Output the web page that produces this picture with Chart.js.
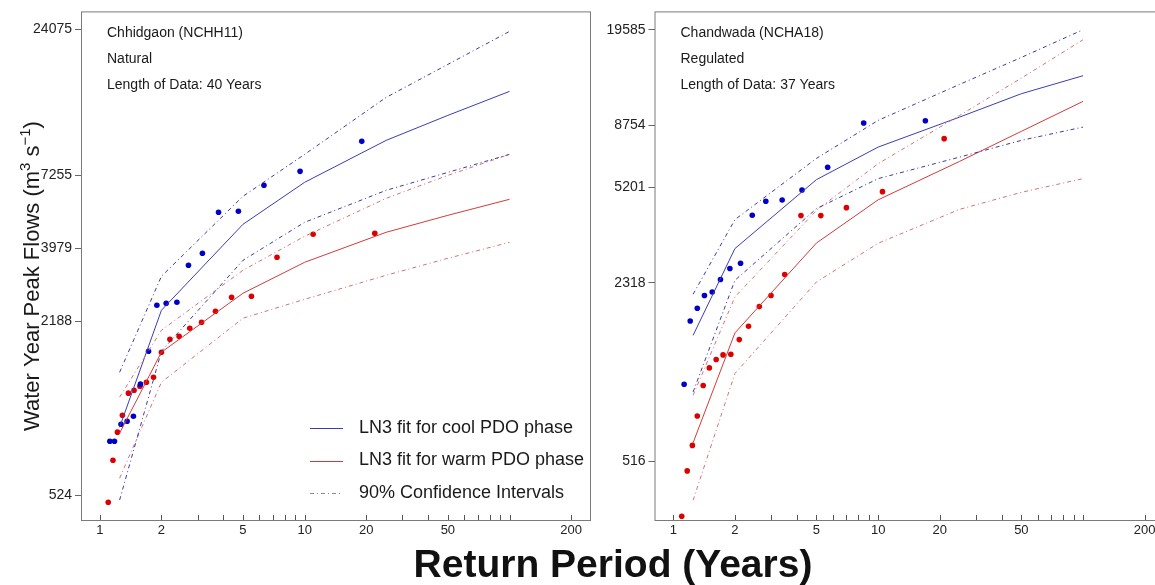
<!DOCTYPE html>
<html>
<head>
<meta charset="utf-8">
<script src="https://cdn.jsdelivr.net/npm/chart.js@4.4.1/dist/chart.umd.min.js"></script>
<style>
  html, body { margin: 0; padding: 0; background: #fff; }
  body { width: 1155px; height: 585px; overflow: hidden; position: relative;
         font-family: "Liberation Sans", Arial, sans-serif; }
  .panel { position: absolute; top: 0; width: 600px; height: 545px; }
  #leftBox  { left: 0; }
  #rightBox { left: 600px; }
  #xTitle { position: absolute; left: 0; width: 1226px; top: 544px; text-align: center;
            font-weight: bold; font-size: 39px; line-height: 39px; color: #111; }
</style>
</head>
<body>
<div class="panel" id="leftBox"><canvas id="leftChart"></canvas></div>
<div class="panel" id="rightBox"><canvas id="rightChart"></canvas></div>
<div id="xTitle">Return Period (Years)</div>

<script>
// -------------  DATA  -------------
// return periods at which the LN3 fits / confidence limits are drawn
const fitPeriods   = [1.25, 2, 5, 10, 25, 50, 100];
const xTickValues  = [1, 2, 3, 4, 5, 6, 7, 8, 9, 10, 20, 30, 40, 50, 60, 70, 80, 90, 100, 200];
const xTickLabels  = [1, 2, 5, 10, 20, 50, 200];

// Chhidgaon (NCHH11), natural
const chhYTicks    = [524, 2188, 3979, 7255, 24075];
const chhCoolT     = [19, 9.5, 6.33, 4.75, 3.8, 3.17, 2.71, 2.38, 2.11, 1.9, 1.73, 1.58, 1.46, 1.36, 1.27, 1.18, 1.12];
const chhCoolQ     = [9594, 7499, 6686, 5400, 5355, 3823, 3464, 2557, 2536, 2494, 1709, 1304, 1002, 962, 938, 816, 816];
const chhWarmT     = [22, 11, 7.33, 5.5, 4.4, 3.67, 3.14, 2.75, 2.44, 2.2, 2, 1.83, 1.69, 1.57, 1.47, 1.38, 1.29, 1.22, 1.16, 1.1];
const chhWarmQ     = [4507, 4470, 3700, 2685, 2664, 2374, 2169, 2065, 1933, 1886, 1696, 1381, 1325, 1282, 1241, 1211, 1010, 879, 698, 494];
const chhCoolFit   = [915, 2394, 4852, 6852, 9674, 11878, 14468];
const chhCoolUpper = [1438, 3166, 6108, 8622, 13772, 18060, 23690];
const chhCoolLower = [503, 1709, 3609, 4932, 6416, 7435, 8623];
const chhWarmFit   = [872, 1696, 2753, 3551, 4544, 5224, 5959];
const chhWarmUpper = [1172, 2031, 3325, 4397, 6008, 7255, 8623];
const chhWarmLower = [602, 1325, 2242, 2620, 3192, 3669, 4184];

// Chandwada (NCHA18), regulated
const chaYTicks    = [516, 2318, 5201, 8754, 19585];
const chaCoolT     = [17, 8.5, 5.67, 4.25, 3.4, 2.83, 2.43, 2.13, 1.89, 1.7, 1.55, 1.42, 1.31, 1.21, 1.13];
const chaCoolQ     = [9097, 8917, 6140, 5070, 4660, 4610, 4097, 2734, 2615, 2385, 2145, 2083, 1872, 1681, 986];
const chaWarmT     = [21, 10.5, 7, 5.25, 4.2, 3.5, 3, 2.63, 2.33, 2.1, 1.91, 1.75, 1.62, 1.5, 1.4, 1.31, 1.24, 1.17, 1.1];
const chaWarmQ     = [7818, 5001, 4371, 4087, 4087, 2485, 2083, 1898, 1608, 1437, 1270, 1263, 1215, 1132, 976, 755, 589, 475, 324];
const chaCoolFit   = [1490, 3095, 5535, 7282, 9378, 11420, 13292];
const chaCoolUpper = [2106, 3951, 6622, 9120, 12354, 15505, 19585];
const chaCoolLower = [924, 2369, 4334, 5581, 6694, 7707, 8619];
const chaWarmFit   = [602, 1520, 3244, 4668, 6457, 8316, 10706];
const chaWarmUpper = [899, 2059, 4272, 6332, 9513, 13026, 17998];
const chaWarmLower = [371, 1080, 2336, 3236, 4309, 4973, 5581];
//============================================================================

const FONT = '"Liberation Sans", Arial, sans-serif';
const BLUE_PT  = '#0000c8';
const RED_PT   = '#dc0000';
const BLUE_FIT = '#3c3cb4';
const RED_FIT  = '#d43a3a';
const BLUE_CI  = '#3a3a96';
const RED_CI   = '#d27272';
const CI_DASH  = [4, 3, 1, 3];

function pairs(xs, ys) {
    return xs.map((x, i) => ({ x: x, y: ys[i] }));
}

function lineSet(values, color, dashed) {
    return {
        type: 'line',
        data: pairs(fitPeriods, values),
        borderColor: color,
        borderWidth: 1,
        borderDash: dashed ? CI_DASH : [],
        pointRadius: 0,
        fill: false,
        tension: 0
    };
}

function pointSet(ts, qs, color) {
    return {
        type: 'scatter',
        data: pairs(ts, qs),
        backgroundColor: color,
        borderWidth: 0,
        pointRadius: 2.8
    };
}

// frame, inward x ticks, station notes, legend and y title
const panelDecor = {
    id: 'panelDecor',
    afterDraw(chart, args, opts) {
        const { ctx, chartArea: a } = chart;
        ctx.save();
        ctx.strokeStyle = '#7a7a7a';
        ctx.lineWidth = 1;
        ctx.setLineDash([]);
        ctx.strokeRect(a.left + 0.5, a.top + 0.5, a.right - a.left, a.bottom - a.top);

        const xs = chart.scales.x;
        ctx.strokeStyle = '#555';
        xs.ticks.forEach(t => {
            const px = Math.round(xs.getPixelForValue(t.value)) + 0.5;
            ctx.beginPath();
            ctx.moveTo(px, a.bottom);
            ctx.lineTo(px, a.bottom - 5);
            ctx.stroke();
        });

        ctx.fillStyle = '#1a1a1a';
        ctx.textBaseline = 'middle';
        ctx.font = '14px ' + FONT;
        (opts.notes || []).forEach((s, i) => ctx.fillText(s, a.left + 26, 33 + i * 26.3));

        if (opts.legend) {
            ctx.font = '18px ' + FONT;
            opts.legend.forEach((item, i) => {
                const y = 428 + i * 32.5;
                ctx.strokeStyle = item.color;
                ctx.setLineDash(item.dash ? CI_DASH : []);
                ctx.beginPath();
                ctx.moveTo(310, Math.round(y) + 0.5);
                ctx.lineTo(343, Math.round(y) + 0.5);
                ctx.stroke();
                ctx.setLineDash([]);
                ctx.fillText(item.label, 359, y);
            });
        }

        if (opts.yTitle) {
            const parts = [
                ['Water Year Peak Flows (m', 22, 0],
                ['3', 15, -9],
                [' s', 22, 0],
                ['\u22121', 15, -9],
                [')', 22, 0]
            ];
            ctx.translate(31, 276);
            ctx.rotate(-Math.PI / 2);
            let total = 0;
            parts.forEach(p => { ctx.font = p[1] + 'px ' + FONT; total += ctx.measureText(p[0]).width; });
            let x = -total / 2;
            ctx.textBaseline = 'alphabetic';
            parts.forEach(p => {
                ctx.font = p[1] + 'px ' + FONT;
                ctx.fillText(p[0], x, 8 + p[2]);
                x += ctx.measureText(p[0]).width;
            });
        }
        ctx.restore();
    }
};

function makePanel(canvasId, p) {
    return new Chart(document.getElementById(canvasId), {
        type: 'scatter',
        data: {
            datasets: [
                lineSet(p.coolUpper, BLUE_CI, true),
                lineSet(p.coolLower, BLUE_CI, true),
                lineSet(p.warmUpper, RED_CI, true),
                lineSet(p.warmLower, RED_CI, true),
                lineSet(p.coolFit, BLUE_FIT, false),
                lineSet(p.warmFit, RED_FIT, false),
                pointSet(p.coolT, p.coolQ, BLUE_PT),
                pointSet(p.warmT, p.warmQ, RED_PT)
            ]
        },
        plugins: [panelDecor],
        options: {
            responsive: true,
            maintainAspectRatio: false,
            animation: false,
            devicePixelRatio: 1,
            layout: { padding: { left: 0, top: 11, right: p.padRight, bottom: 0 } },
            scales: {
                x: {
                    type: 'logarithmic',
                    min: 0.81,
                    max: 247,
                    afterBuildTicks: s => { s.ticks = xTickValues.map(v => ({ value: v })); },
                    afterFit: s => { s.height = 25; },
                    grid: { display: false, drawTicks: false },
                    border: { display: false },
                    ticks: {
                        autoSkip: false,
                        maxRotation: 0,
                        padding: 3,
                        color: '#222',
                        font: { size: 13, family: FONT },
                        callback: v => xTickLabels.includes(v) ? String(v) : ''
                    }
                },
                y: {
                    type: 'logarithmic',
                    min: p.yMin,
                    max: p.yMax,
                    afterBuildTicks: s => { s.ticks = p.yTicks.map(v => ({ value: v })); },
                    afterFit: s => { s.width = p.yWidth; },
                    grid: { display: true, drawOnChartArea: false, drawTicks: true, tickLength: 6, color: '#666' },
                    border: { display: false },
                    ticks: {
                        padding: 3,
                        color: '#222',
                        font: { size: 14, family: FONT },
                        callback: v => String(v)
                    }
                }
            },
            plugins: {
                legend: { display: false },
                tooltip: { enabled: false },
                panelDecor: {
                    notes: p.notes,
                    legend: p.legend,
                    yTitle: p.yTitle
                }
            }
        }
    });
}

makePanel('leftChart', {
    coolT: chhCoolT, coolQ: chhCoolQ, warmT: chhWarmT, warmQ: chhWarmQ,
    coolFit: chhCoolFit, coolUpper: chhCoolUpper, coolLower: chhCoolLower,
    warmFit: chhWarmFit, warmUpper: chhWarmUpper, warmLower: chhWarmLower,
    yTicks: chhYTicks, yMin: 427, yMax: 27920, yWidth: 81, padRight: 10,
    notes: ['Chhidgaon (NCHH11)', 'Natural', 'Length of Data: 40 Years'],
    legend: [
        { label: 'LN3 fit for cool PDO phase', color: BLUE_FIT, dash: false },
        { label: 'LN3 fit for warm PDO phase', color: RED_FIT, dash: false },
        { label: '90% Confidence Intervals', color: '#8c8c8c', dash: true }
    ],
    yTitle: true
});

makePanel('rightChart', {
    coolT: chaCoolT, coolQ: chaCoolQ, warmT: chaWarmT, warmQ: chaWarmQ,
    coolFit: chaCoolFit, coolUpper: chaCoolUpper, coolLower: chaCoolLower,
    warmFit: chaWarmFit, warmUpper: chaWarmUpper, warmLower: chaWarmLower,
    yTicks: chaYTicks, yMin: 314, yMax: 22857, yWidth: 54.5, padRight: 36.5,
    notes: ['Chandwada (NCHA18)', 'Regulated', 'Length of Data: 37 Years'],
    legend: null,
    yTitle: false
});
</script>
</body>
</html>
